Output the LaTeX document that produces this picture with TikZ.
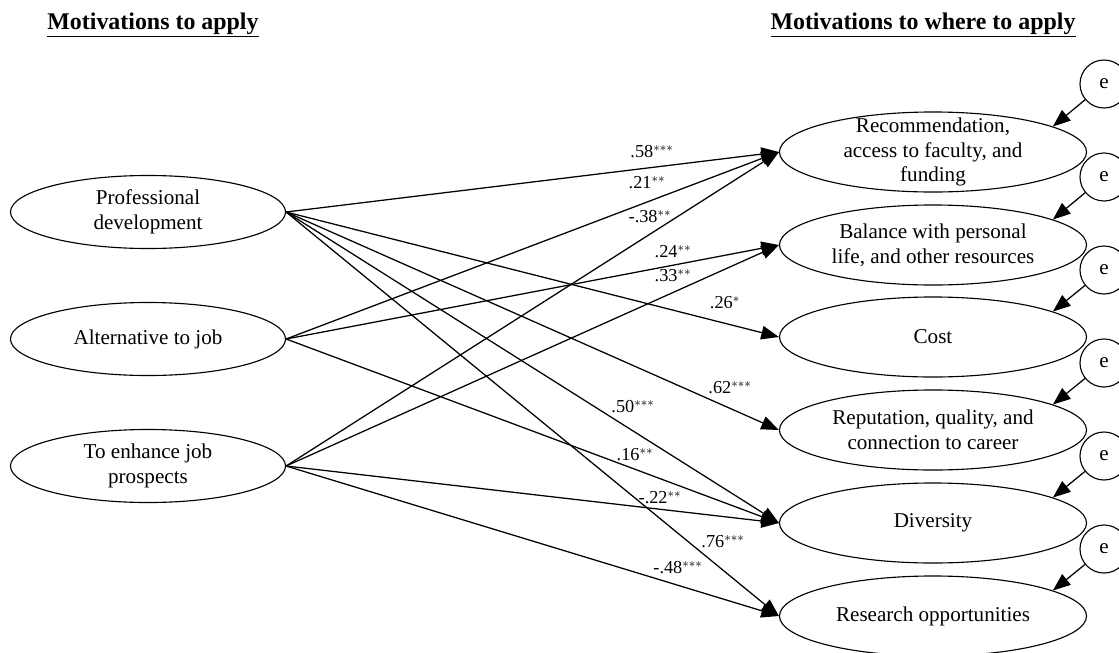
\documentclass[tikz,border=0pt]{standalone}
\usepackage{fontspec}
\setmainfont{Liberation Serif}
\usetikzlibrary{shapes.geometric,arrows.meta}

\tikzset{
  motive/.style={draw, ellipse, line width=0.8pt, minimum width=6.875cm, minimum height=1.825cm, inner sep=0pt},
  choice/.style={draw, ellipse, line width=0.8pt, minimum width=7.675cm, minimum height=2cm, inner sep=0pt},
  err/.style={draw, circle, fill=white, line width=0.8pt, minimum size=1.2cm, inner sep=0pt, font=\fontsize{15}{18}\selectfont},
  txt/.style={align=center, inner sep=0pt, font=\fontsize{15}{17.7}\selectfont},
  coef/.style={inner sep=1pt, font=\fontsize{13}{15}\selectfont},
  heading/.style={font=\fontsize{17}{20}\selectfont\bfseries},
  effect/.style={-{Triangle[length=0.44cm,width=0.34cm]}, line width=0.9pt}
}

\begin{document}
\begin{tikzpicture}[x=0.025cm, y=-0.025cm]
        \useasboundingbox (0,0) rectangle (1119,652);

        % Headings
        \node[heading] (hleft) at (153,25) {\underline{Motivations to apply}};
        \node[heading] (hright) at (923,25) {\underline{Motivations to where to apply}};

        % Motivations to apply
        \node[motive, label={[txt]center:{Professional\\development}}] (prof) at (148,212) {};
        \node[motive, label={[txt]center:{Alternative to job}}] (alt) at (148,339) {};
        \node[motive, label={[txt]center:{To enhance job\\prospects}}] (enh) at (148,466) {};

        % Motivations to where to apply
        \node[choice, label={[txt]center:{Recommendation,\\access to faculty, and\\funding}}] (rec) at (933,152) {};
        \node[choice, label={[txt]center:{Balance with personal\\life, and other resources}}] (bal) at (933,245) {};
        \node[choice, label={[txt]center:{Cost}}] (cost) at (933,337) {};
        \node[choice, label={[txt]center:{Reputation, quality, and\\connection to career}}] (rep) at (933,430) {};
        \node[choice, label={[txt]center:{Diversity}}] (div) at (933,523) {};
        \node[choice, label={[txt]center:{Research opportunities}}] (res) at (933,616) {};

        % Error terms
        \node[err] (e1) at (1104,84) {e};
        \node[err] (e2) at (1104,177) {e};
        \node[err] (e3) at (1104,270) {e};
        \node[err] (e4) at (1104,363) {e};
        \node[err] (e5) at (1104,456) {e};
        \node[err] (e6) at (1104,549) {e};
        \draw[effect] (e1) -- (rec.12);
        \draw[effect] (e2) -- (bal.12);
        \draw[effect] (e3) -- (cost.12);
        \draw[effect] (e4) -- (rep.12);
        \draw[effect] (e5) -- (div.12);
        \draw[effect] (e6) -- (res.12);

        % Paths
        \draw[effect] (prof.east) -- (rec.west);
        \draw[effect] (prof.east) -- (cost.west);
        \draw[effect] (prof.east) -- (rep.west);
        \draw[effect] (prof.east) -- (div.west);
        \draw[effect] (prof.east) -- (res.west);
        \draw[effect] (alt.east) -- (rec.west);
        \draw[effect] (alt.east) -- (bal.west);
        \draw[effect] (alt.east) -- (div.west);
        \draw[effect] (enh.east) -- (rec.west);
        \draw[effect] (enh.east) -- (bal.west);
        \draw[effect] (enh.east) -- (div.west);
        \draw[effect] (enh.east) -- (res.west);

        % Coefficients
        \node[coef] (c58) at (652,152) {.58$^{***}$};
        \node[coef] (c21) at (647,183) {.21$^{**}$};
        \node[coef] (c38) at (650,217) {-.38$^{**}$};
        \node[coef] (c24) at (673,252) {.24$^{**}$};
        \node[coef] (c33) at (673,276) {.33$^{**}$};
        \node[coef] (c26) at (725,303) {.26$^{*}$};
        \node[coef] (c62) at (730,388) {.62$^{***}$};
        \node[coef] (c50) at (633,407) {.50$^{***}$};
        \node[coef] (c16) at (635,455) {.16$^{**}$};
        \node[coef] (c22) at (660,498) {-.22$^{**}$};
        \node[coef] (c76) at (723,542) {.76$^{***}$};
        \node[coef] (c48) at (678,568) {-.48$^{***}$};
    \end{tikzpicture}
\end{document}
